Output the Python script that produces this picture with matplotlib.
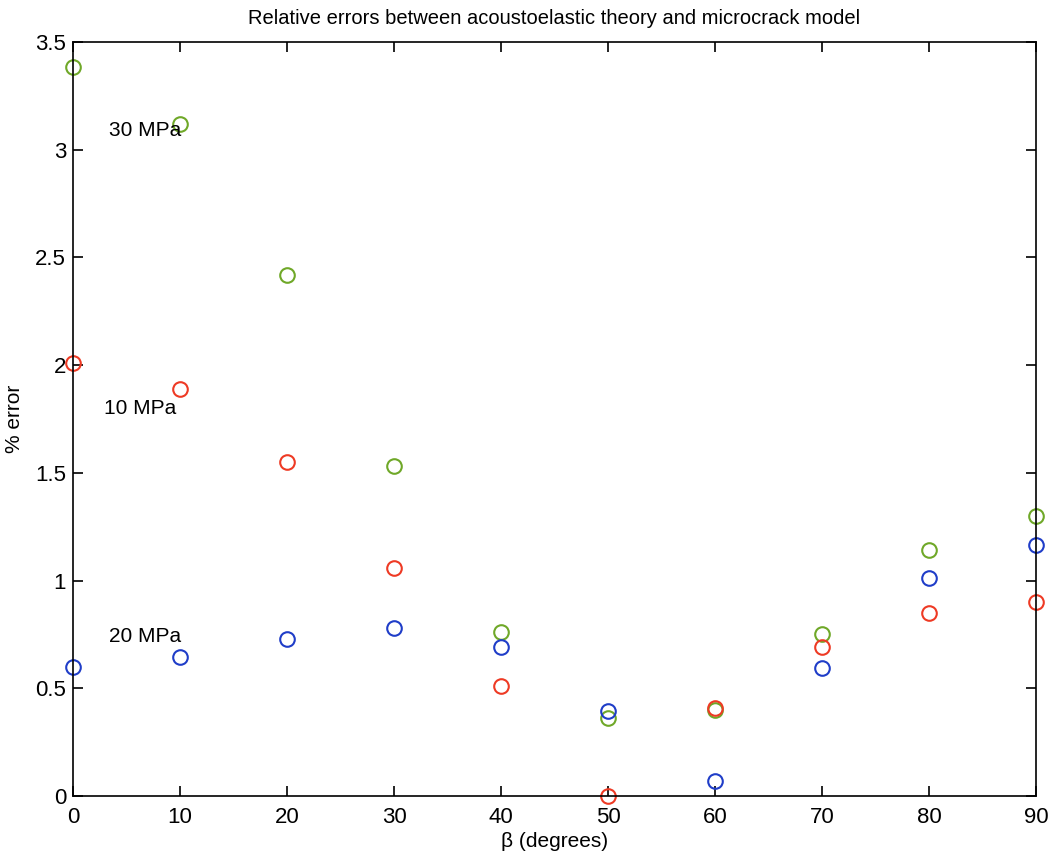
import matplotlib
matplotlib.use('Agg')
import matplotlib.pyplot as plt

plt.rcParams['font.family'] = ['Liberation Sans', 'DejaVu Sans']

beta = [0, 10, 20, 30, 40, 50, 60, 70, 80, 90]
err_10mpa = [2.01, 1.89, 1.55, 1.06, 0.51, 0.0, 0.41, 0.69, 0.85, 0.90]
err_20mpa = [0.60, 0.645, 0.73, 0.78, 0.69, 0.395, 0.07, 0.595, 1.01, 1.165]
err_30mpa = [3.385, 3.12, 2.42, 1.53, 0.76, 0.36, 0.40, 0.75, 1.14, 1.30]

fig = plt.figure(figsize=(10.54, 8.58), dpi=100)
ax = fig.add_axes([0.0693, 0.0723, 0.9137, 0.8787])

mk = dict(linestyle='none', marker='o', markersize=10.5, markerfacecolor='none',
          markeredgewidth=1.5, clip_on=False)
ax.plot(beta, err_30mpa, markeredgecolor='#6fa828', **mk)
ax.plot(beta, err_10mpa, markeredgecolor='#ee3a24', **mk)
ax.plot(beta, err_20mpa, markeredgecolor='#1f3dc8', **mk)

ax.text(3.4, 3.09, '30 MPa', fontsize=15, va='center')
ax.text(2.9, 1.80, '10 MPa', fontsize=15, va='center')
ax.text(3.4, 0.74, '20 MPa', fontsize=15, va='center')

ax.set_xlim(0, 90)
ax.set_ylim(0, 3.5)
ax.set_xticks(range(0, 91, 10))
ax.set_yticks([0, 0.5, 1, 1.5, 2, 2.5, 3, 3.5])
ax.set_yticklabels(['0', '0.5', '1', '1.5', '2', '2.5', '3', '3.5'])
ax.tick_params(direction='in', top=True, right=True, length=7, width=1.2,
               labelsize=16)
ax.tick_params(axis='x', pad=8)
ax.tick_params(axis='y', pad=5)
for s in ax.spines.values():
    s.set_linewidth(1.2)

ax.set_xlabel('\u03b2 (degrees)', fontsize=15, labelpad=3)
ax.set_ylabel('% error', fontsize=15, labelpad=8)
ax.set_title('Relative errors between acoustoelastic theory and microcrack model',
             fontsize=14.5, pad=13)

fig.savefig('out.png', dpi=100)
